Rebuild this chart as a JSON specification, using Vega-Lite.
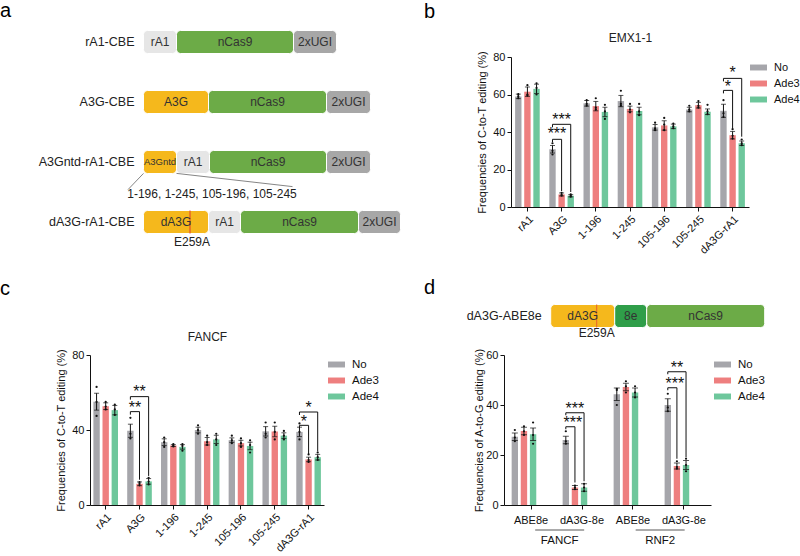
{
  "$schema": "https://vega.github.io/schema/vega-lite/v6.json",
  "padding": {"left": 0, "top": 1, "right": 0, "bottom": 0},
  "config": {
    "font": "Liberation Sans",
    "view": {"stroke": null},
    "axis": {"grid": false, "domainColor": "#111", "tickColor": "#111", "labelColor": "#111", "titleColor": "#111", "labelFontSize": 11, "titleFontSize": 11, "titleFontWeight": "normal", "tickSize": 4, "labelOverlap": false},
    "title": {"fontWeight": "normal", "color": "#000", "fontSize": 20}
  },
  "datasets": {
    "sa": [
      {"row": 1, "part": "rA1", "start": 0, "end": 33},
      {"row": 1, "part": "nCas9", "start": 33, "end": 150},
      {"row": 1, "part": "2xUGI", "start": 150, "end": 193},
      {"row": 2, "part": "A3G", "start": 0, "end": 65},
      {"row": 2, "part": "nCas9", "start": 65, "end": 183},
      {"row": 2, "part": "2xUGI", "start": 183, "end": 227},
      {"row": 3, "part": "A3Gntd", "start": 0, "end": 33},
      {"row": 3, "part": "rA1", "start": 33, "end": 66},
      {"row": 3, "part": "nCas9", "start": 66, "end": 183},
      {"row": 3, "part": "2xUGI", "start": 183, "end": 227},
      {"row": 4, "part": "dA3G", "start": 0, "end": 65},
      {"row": 4, "part": "rA1", "start": 65, "end": 97},
      {"row": 4, "part": "nCas9", "start": 97, "end": 215},
      {"row": 4, "part": "2xUGI", "start": 215, "end": 257}
    ],
    "sa_names": [
      {"row": 1, "name": "rA1-CBE"},
      {"row": 2, "name": "A3G-CBE"},
      {"row": 3, "name": "A3Gntd-rA1-CBE"},
      {"row": 4, "name": "dA3G-rA1-CBE"}
    ],
    "sa_mut": [{"row": 4, "start": 46, "end": 47}],
    "sa_lines": [
      {"x": 0, "y": 3.19, "x2": -15.5, "y2": 3.46},
      {"x": 33, "y": 3.19, "x2": 149, "y2": 3.41}
    ],
    "sa_notes": [
      {"x": 68.5, "y": 3.54, "t": "1-196, 1-245, 105-196, 105-245"},
      {"x": 48.5, "y": 4.33, "t": "E259A"}
    ],
    "sd": [
      {"row": 1, "part": "dA3G", "start": 0, "end": 64},
      {"row": 1, "part": "8e", "start": 64, "end": 96},
      {"row": 1, "part": "nCas9", "start": 96, "end": 214}
    ],
    "sd_names": [{"row": 1, "name": "dA3G-ABE8e"}],
    "sd_mut": [{"row": 1, "start": 45.5, "end": 46.5}],
    "sd_notes": [{"x": 46, "y": 1.58, "t": "E259A"}],
    "b_bars": [
      {"cat": "rA1", "trt": "No", "mean": 59, "lo": 57.8, "hi": 60.2},
      {"cat": "rA1", "trt": "Ade3", "mean": 61.5, "lo": 59, "hi": 64},
      {"cat": "rA1", "trt": "Ade4", "mean": 63, "lo": 60.5, "hi": 65.5},
      {"cat": "A3G", "trt": "No", "mean": 30.8, "lo": 28.8, "hi": 32.8},
      {"cat": "A3G", "trt": "Ade3", "mean": 6.7, "lo": 5.9, "hi": 7.5},
      {"cat": "A3G", "trt": "Ade4", "mean": 6, "lo": 5.4, "hi": 6.6},
      {"cat": "1-196", "trt": "No", "mean": 55.3, "lo": 53.8, "hi": 56.8},
      {"cat": "1-196", "trt": "Ade3", "mean": 53.8, "lo": 51.3, "hi": 56.3},
      {"cat": "1-196", "trt": "Ade4", "mean": 50.7, "lo": 48.2, "hi": 53.2},
      {"cat": "1-245", "trt": "No", "mean": 56.5, "lo": 53.5, "hi": 59.5},
      {"cat": "1-245", "trt": "Ade3", "mean": 52.3, "lo": 50.8, "hi": 53.8},
      {"cat": "1-245", "trt": "Ade4", "mean": 51.2, "lo": 49.2, "hi": 53.2},
      {"cat": "105-196", "trt": "No", "mean": 42.5, "lo": 41, "hi": 44},
      {"cat": "105-196", "trt": "Ade3", "mean": 43.5, "lo": 41, "hi": 46},
      {"cat": "105-196", "trt": "Ade4", "mean": 43, "lo": 41.8, "hi": 44.2},
      {"cat": "105-245", "trt": "No", "mean": 52, "lo": 50.8, "hi": 53.2},
      {"cat": "105-245", "trt": "Ade3", "mean": 54.3, "lo": 52.8, "hi": 55.8},
      {"cat": "105-245", "trt": "Ade4", "mean": 50.8, "lo": 49.3, "hi": 52.3},
      {"cat": "dA3G-rA1", "trt": "No", "mean": 51.3, "lo": 47.8, "hi": 54.8},
      {"cat": "dA3G-rA1", "trt": "Ade3", "mean": 38.3, "lo": 36.3, "hi": 40.3},
      {"cat": "dA3G-rA1", "trt": "Ade4", "mean": 34, "lo": 32.8, "hi": 35.2}
    ],
    "b_dots": [
      {"cat": "rA1", "trt": "No", "v": 58}, {"cat": "rA1", "trt": "No", "v": 59}, {"cat": "rA1", "trt": "No", "v": 60.2},
      {"cat": "rA1", "trt": "Ade3", "v": 59.5}, {"cat": "rA1", "trt": "Ade3", "v": 60}, {"cat": "rA1", "trt": "Ade3", "v": 65},
      {"cat": "rA1", "trt": "Ade4", "v": 60}, {"cat": "rA1", "trt": "Ade4", "v": 63.5}, {"cat": "rA1", "trt": "Ade4", "v": 66},
      {"cat": "A3G", "trt": "No", "v": 28}, {"cat": "A3G", "trt": "No", "v": 30}, {"cat": "A3G", "trt": "No", "v": 34},
      {"cat": "A3G", "trt": "Ade3", "v": 6}, {"cat": "A3G", "trt": "Ade3", "v": 6.5}, {"cat": "A3G", "trt": "Ade3", "v": 7.6},
      {"cat": "A3G", "trt": "Ade4", "v": 5.5}, {"cat": "A3G", "trt": "Ade4", "v": 6}, {"cat": "A3G", "trt": "Ade4", "v": 6.8},
      {"cat": "1-196", "trt": "No", "v": 54}, {"cat": "1-196", "trt": "No", "v": 55}, {"cat": "1-196", "trt": "No", "v": 57},
      {"cat": "1-196", "trt": "Ade3", "v": 52}, {"cat": "1-196", "trt": "Ade3", "v": 53}, {"cat": "1-196", "trt": "Ade3", "v": 58},
      {"cat": "1-196", "trt": "Ade4", "v": 47}, {"cat": "1-196", "trt": "Ade4", "v": 51}, {"cat": "1-196", "trt": "Ade4", "v": 54.5},
      {"cat": "1-245", "trt": "No", "v": 54}, {"cat": "1-245", "trt": "No", "v": 55}, {"cat": "1-245", "trt": "No", "v": 62},
      {"cat": "1-245", "trt": "Ade3", "v": 50.5}, {"cat": "1-245", "trt": "Ade3", "v": 52}, {"cat": "1-245", "trt": "Ade3", "v": 55},
      {"cat": "1-245", "trt": "Ade4", "v": 49}, {"cat": "1-245", "trt": "Ade4", "v": 51}, {"cat": "1-245", "trt": "Ade4", "v": 55},
      {"cat": "105-196", "trt": "No", "v": 41}, {"cat": "105-196", "trt": "No", "v": 42}, {"cat": "105-196", "trt": "No", "v": 45},
      {"cat": "105-196", "trt": "Ade3", "v": 41}, {"cat": "105-196", "trt": "Ade3", "v": 44}, {"cat": "105-196", "trt": "Ade3", "v": 47.5},
      {"cat": "105-196", "trt": "Ade4", "v": 42}, {"cat": "105-196", "trt": "Ade4", "v": 43}, {"cat": "105-196", "trt": "Ade4", "v": 44.5},
      {"cat": "105-245", "trt": "No", "v": 51}, {"cat": "105-245", "trt": "No", "v": 52}, {"cat": "105-245", "trt": "No", "v": 54},
      {"cat": "105-245", "trt": "Ade3", "v": 53}, {"cat": "105-245", "trt": "Ade3", "v": 54}, {"cat": "105-245", "trt": "Ade3", "v": 56.5},
      {"cat": "105-245", "trt": "Ade4", "v": 49.5}, {"cat": "105-245", "trt": "Ade4", "v": 51}, {"cat": "105-245", "trt": "Ade4", "v": 54.5},
      {"cat": "dA3G-rA1", "trt": "No", "v": 48}, {"cat": "dA3G-rA1", "trt": "No", "v": 50}, {"cat": "dA3G-rA1", "trt": "No", "v": 57},
      {"cat": "dA3G-rA1", "trt": "Ade3", "v": 36.5}, {"cat": "dA3G-rA1", "trt": "Ade3", "v": 38}, {"cat": "dA3G-rA1", "trt": "Ade3", "v": 41.5},
      {"cat": "dA3G-rA1", "trt": "Ade4", "v": 33}, {"cat": "dA3G-rA1", "trt": "Ade4", "v": 34}, {"cat": "dA3G-rA1", "trt": "Ade4", "v": 36}
    ],
    "b_br": [
      {"id": 1, "o": 1, "cat": "A3G", "trt": "No", "y": 34.5}, {"id": 1, "o": 2, "cat": "A3G", "trt": "No", "y": 36.1},
      {"id": 1, "o": 3, "cat": "A3G", "trt": "Ade3", "y": 36.1}, {"id": 1, "o": 4, "cat": "A3G", "trt": "Ade3", "y": 8.5},
      {"id": 2, "o": 1, "cat": "A3G", "trt": "No", "y": 42.5}, {"id": 2, "o": 2, "cat": "A3G", "trt": "No", "y": 44.1},
      {"id": 2, "o": 3, "cat": "A3G", "trt": "Ade4", "y": 44.1}, {"id": 2, "o": 4, "cat": "A3G", "trt": "Ade4", "y": 8},
      {"id": 3, "o": 1, "cat": "dA3G-rA1", "trt": "No", "y": 60.6}, {"id": 3, "o": 2, "cat": "dA3G-rA1", "trt": "No", "y": 62.2},
      {"id": 3, "o": 3, "cat": "dA3G-rA1", "trt": "Ade3", "y": 62.2}, {"id": 3, "o": 4, "cat": "dA3G-rA1", "trt": "Ade3", "y": 42},
      {"id": 4, "o": 1, "cat": "dA3G-rA1", "trt": "No", "y": 67}, {"id": 4, "o": 2, "cat": "dA3G-rA1", "trt": "No", "y": 68.6},
      {"id": 4, "o": 3, "cat": "dA3G-rA1", "trt": "Ade4", "y": 68.6}, {"id": 4, "o": 4, "cat": "dA3G-rA1", "trt": "Ade4", "y": 37.5}
    ],
    "b_st": [
      {"cat": "A3G", "trt": "No", "lvl": "lo", "y": 40.9, "s": "***"},
      {"cat": "A3G", "trt": "Ade3", "lvl": "hi", "y": 48.5, "s": "***"},
      {"cat": "dA3G-rA1", "trt": "No", "lvl": "lo", "y": 66.3, "s": "*"},
      {"cat": "dA3G-rA1", "trt": "Ade3", "lvl": "hi", "y": 73.4, "s": "*"}
    ],
    "c_bars": [
      {"cat": "rA1", "trt": "No", "mean": 55.1, "lo": 50.6, "hi": 59.6},
      {"cat": "rA1", "trt": "Ade3", "mean": 52.7, "lo": 50.9, "hi": 54.5},
      {"cat": "rA1", "trt": "Ade4", "mean": 50.6, "lo": 48.1, "hi": 53.1},
      {"cat": "A3G", "trt": "No", "mean": 39.6, "lo": 36.1, "hi": 43.1},
      {"cat": "A3G", "trt": "Ade3", "mean": 11.3, "lo": 10.3, "hi": 12.3},
      {"cat": "A3G", "trt": "Ade4", "mean": 12.6, "lo": 11.1, "hi": 14.1},
      {"cat": "1-196", "trt": "No", "mean": 33.5, "lo": 31.7, "hi": 35.3},
      {"cat": "1-196", "trt": "Ade3", "mean": 31.7, "lo": 31.2, "hi": 32.2},
      {"cat": "1-196", "trt": "Ade4", "mean": 31, "lo": 29.8, "hi": 32.2},
      {"cat": "1-245", "trt": "No", "mean": 40, "lo": 38.5, "hi": 41.5},
      {"cat": "1-245", "trt": "Ade3", "mean": 34, "lo": 32, "hi": 36},
      {"cat": "1-245", "trt": "Ade4", "mean": 35, "lo": 32.8, "hi": 37.2},
      {"cat": "105-196", "trt": "No", "mean": 34.6, "lo": 33.4, "hi": 35.8},
      {"cat": "105-196", "trt": "Ade3", "mean": 33, "lo": 31.5, "hi": 34.5},
      {"cat": "105-196", "trt": "Ade4", "mean": 31.5, "lo": 29.5, "hi": 33.5},
      {"cat": "105-245", "trt": "No", "mean": 39.3, "lo": 36.8, "hi": 41.8},
      {"cat": "105-245", "trt": "Ade3", "mean": 39.2, "lo": 36.4, "hi": 42},
      {"cat": "105-245", "trt": "Ade4", "mean": 37, "lo": 35.5, "hi": 38.5},
      {"cat": "dA3G-rA1", "trt": "No", "mean": 39, "lo": 36.5, "hi": 41.5},
      {"cat": "dA3G-rA1", "trt": "Ade3", "mean": 24.3, "lo": 23.1, "hi": 25.5},
      {"cat": "dA3G-rA1", "trt": "Ade4", "mean": 25.5, "lo": 24, "hi": 27}
    ],
    "c_dots": [
      {"cat": "rA1", "trt": "No", "v": 47.5}, {"cat": "rA1", "trt": "No", "v": 55}, {"cat": "rA1", "trt": "No", "v": 63},
      {"cat": "rA1", "trt": "Ade3", "v": 51}, {"cat": "rA1", "trt": "Ade3", "v": 52.5}, {"cat": "rA1", "trt": "Ade3", "v": 55},
      {"cat": "rA1", "trt": "Ade4", "v": 48}, {"cat": "rA1", "trt": "Ade4", "v": 51}, {"cat": "rA1", "trt": "Ade4", "v": 53.5},
      {"cat": "A3G", "trt": "No", "v": 35.5}, {"cat": "A3G", "trt": "No", "v": 38}, {"cat": "A3G", "trt": "No", "v": 46.5},
      {"cat": "A3G", "trt": "Ade3", "v": 10.5}, {"cat": "A3G", "trt": "Ade3", "v": 11.3}, {"cat": "A3G", "trt": "Ade3", "v": 12.2},
      {"cat": "A3G", "trt": "Ade4", "v": 11}, {"cat": "A3G", "trt": "Ade4", "v": 12.5}, {"cat": "A3G", "trt": "Ade4", "v": 14.5},
      {"cat": "1-196", "trt": "No", "v": 31}, {"cat": "1-196", "trt": "No", "v": 33.5}, {"cat": "1-196", "trt": "No", "v": 36},
      {"cat": "1-196", "trt": "Ade3", "v": 31.2}, {"cat": "1-196", "trt": "Ade3", "v": 31.8}, {"cat": "1-196", "trt": "Ade3", "v": 32.5},
      {"cat": "1-196", "trt": "Ade4", "v": 29}, {"cat": "1-196", "trt": "Ade4", "v": 31.5}, {"cat": "1-196", "trt": "Ade4", "v": 32.5},
      {"cat": "1-245", "trt": "No", "v": 38}, {"cat": "1-245", "trt": "No", "v": 40}, {"cat": "1-245", "trt": "No", "v": 42.5},
      {"cat": "1-245", "trt": "Ade3", "v": 32}, {"cat": "1-245", "trt": "Ade3", "v": 33.5}, {"cat": "1-245", "trt": "Ade3", "v": 37},
      {"cat": "1-245", "trt": "Ade4", "v": 32}, {"cat": "1-245", "trt": "Ade4", "v": 35}, {"cat": "1-245", "trt": "Ade4", "v": 38},
      {"cat": "105-196", "trt": "No", "v": 33}, {"cat": "105-196", "trt": "No", "v": 34.5}, {"cat": "105-196", "trt": "No", "v": 37},
      {"cat": "105-196", "trt": "Ade3", "v": 31}, {"cat": "105-196", "trt": "Ade3", "v": 33}, {"cat": "105-196", "trt": "Ade3", "v": 35.5},
      {"cat": "105-196", "trt": "Ade4", "v": 28}, {"cat": "105-196", "trt": "Ade4", "v": 32}, {"cat": "105-196", "trt": "Ade4", "v": 34.5},
      {"cat": "105-245", "trt": "No", "v": 36}, {"cat": "105-245", "trt": "No", "v": 38}, {"cat": "105-245", "trt": "No", "v": 44},
      {"cat": "105-245", "trt": "Ade3", "v": 35}, {"cat": "105-245", "trt": "Ade3", "v": 39}, {"cat": "105-245", "trt": "Ade3", "v": 44},
      {"cat": "105-245", "trt": "Ade4", "v": 35}, {"cat": "105-245", "trt": "Ade4", "v": 37}, {"cat": "105-245", "trt": "Ade4", "v": 39.5},
      {"cat": "dA3G-rA1", "trt": "No", "v": 35}, {"cat": "dA3G-rA1", "trt": "No", "v": 39}, {"cat": "dA3G-rA1", "trt": "No", "v": 43.5},
      {"cat": "dA3G-rA1", "trt": "Ade3", "v": 23}, {"cat": "dA3G-rA1", "trt": "Ade3", "v": 24}, {"cat": "dA3G-rA1", "trt": "Ade3", "v": 27},
      {"cat": "dA3G-rA1", "trt": "Ade4", "v": 24}, {"cat": "dA3G-rA1", "trt": "Ade4", "v": 25.5}, {"cat": "dA3G-rA1", "trt": "Ade4", "v": 28}
    ],
    "c_br": [
      {"id": 1, "o": 1, "cat": "A3G", "trt": "No", "y": 48.2}, {"id": 1, "o": 2, "cat": "A3G", "trt": "No", "y": 49.8},
      {"id": 1, "o": 3, "cat": "A3G", "trt": "Ade3", "y": 49.8}, {"id": 1, "o": 4, "cat": "A3G", "trt": "Ade3", "y": 13.5},
      {"id": 2, "o": 1, "cat": "A3G", "trt": "No", "y": 56.2}, {"id": 2, "o": 2, "cat": "A3G", "trt": "No", "y": 57.8},
      {"id": 2, "o": 3, "cat": "A3G", "trt": "Ade4", "y": 57.8}, {"id": 2, "o": 4, "cat": "A3G", "trt": "Ade4", "y": 15.5},
      {"id": 3, "o": 1, "cat": "dA3G-rA1", "trt": "No", "y": 40.9}, {"id": 3, "o": 2, "cat": "dA3G-rA1", "trt": "No", "y": 42.5},
      {"id": 3, "o": 3, "cat": "dA3G-rA1", "trt": "Ade3", "y": 42.5}, {"id": 3, "o": 4, "cat": "dA3G-rA1", "trt": "Ade3", "y": 27},
      {"id": 4, "o": 1, "cat": "dA3G-rA1", "trt": "No", "y": 48}, {"id": 4, "o": 2, "cat": "dA3G-rA1", "trt": "No", "y": 49.6},
      {"id": 4, "o": 3, "cat": "dA3G-rA1", "trt": "Ade4", "y": 49.6}, {"id": 4, "o": 4, "cat": "dA3G-rA1", "trt": "Ade4", "y": 28.5}
    ],
    "c_st": [
      {"cat": "A3G", "trt": "No", "lvl": "lo", "y": 54, "s": "**"},
      {"cat": "A3G", "trt": "Ade3", "lvl": "hi", "y": 62.2, "s": "**"},
      {"cat": "dA3G-rA1", "trt": "No", "lvl": "lo", "y": 46.6, "s": "*"},
      {"cat": "dA3G-rA1", "trt": "Ade3", "lvl": "hi", "y": 53.8, "s": "*"}
    ],
    "d_bars": [
      {"cat": "FANCF ABE8e", "trt": "No", "mean": 27.3, "lo": 25.8, "hi": 28.8},
      {"cat": "FANCF ABE8e", "trt": "Ade3", "mean": 29.6, "lo": 28.1, "hi": 31.1},
      {"cat": "FANCF ABE8e", "trt": "Ade4", "mean": 28.3, "lo": 25.8, "hi": 30.8},
      {"cat": "FANCF dA3G-8e", "trt": "No", "mean": 26, "lo": 24.5, "hi": 27.5},
      {"cat": "FANCF dA3G-8e", "trt": "Ade3", "mean": 7, "lo": 6.2, "hi": 7.8},
      {"cat": "FANCF dA3G-8e", "trt": "Ade4", "mean": 7, "lo": 5.5, "hi": 8.5},
      {"cat": "RNF2 ABE8e", "trt": "No", "mean": 44.3, "lo": 41.8, "hi": 46.8},
      {"cat": "RNF2 ABE8e", "trt": "Ade3", "mean": 47.2, "lo": 45.7, "hi": 48.7},
      {"cat": "RNF2 ABE8e", "trt": "Ade4", "mean": 45, "lo": 43.2, "hi": 46.8},
      {"cat": "RNF2 dA3G-8e", "trt": "No", "mean": 40, "lo": 37.5, "hi": 42.5},
      {"cat": "RNF2 dA3G-8e", "trt": "Ade3", "mean": 15.6, "lo": 14.4, "hi": 16.8},
      {"cat": "RNF2 dA3G-8e", "trt": "Ade4", "mean": 16, "lo": 14.2, "hi": 17.8}
    ],
    "d_dots": [
      {"cat": "FANCF ABE8e", "trt": "No", "v": 25.5}, {"cat": "FANCF ABE8e", "trt": "No", "v": 27}, {"cat": "FANCF ABE8e", "trt": "No", "v": 30},
      {"cat": "FANCF ABE8e", "trt": "Ade3", "v": 28}, {"cat": "FANCF ABE8e", "trt": "Ade3", "v": 29.5}, {"cat": "FANCF ABE8e", "trt": "Ade3", "v": 31.5},
      {"cat": "FANCF ABE8e", "trt": "Ade4", "v": 24.5}, {"cat": "FANCF ABE8e", "trt": "Ade4", "v": 28}, {"cat": "FANCF ABE8e", "trt": "Ade4", "v": 33},
      {"cat": "FANCF dA3G-8e", "trt": "No", "v": 24.5}, {"cat": "FANCF dA3G-8e", "trt": "No", "v": 25.5}, {"cat": "FANCF dA3G-8e", "trt": "No", "v": 29.5},
      {"cat": "FANCF dA3G-8e", "trt": "Ade3", "v": 6.3}, {"cat": "FANCF dA3G-8e", "trt": "Ade3", "v": 7}, {"cat": "FANCF dA3G-8e", "trt": "Ade3", "v": 7.8},
      {"cat": "FANCF dA3G-8e", "trt": "Ade4", "v": 5.5}, {"cat": "FANCF dA3G-8e", "trt": "Ade4", "v": 7}, {"cat": "FANCF dA3G-8e", "trt": "Ade4", "v": 8.5},
      {"cat": "RNF2 ABE8e", "trt": "No", "v": 40}, {"cat": "RNF2 ABE8e", "trt": "No", "v": 46}, {"cat": "RNF2 ABE8e", "trt": "No", "v": 46.5},
      {"cat": "RNF2 ABE8e", "trt": "Ade3", "v": 45}, {"cat": "RNF2 ABE8e", "trt": "Ade3", "v": 47.5}, {"cat": "RNF2 ABE8e", "trt": "Ade3", "v": 49.5},
      {"cat": "RNF2 ABE8e", "trt": "Ade4", "v": 43}, {"cat": "RNF2 ABE8e", "trt": "Ade4", "v": 45}, {"cat": "RNF2 ABE8e", "trt": "Ade4", "v": 47.5},
      {"cat": "RNF2 dA3G-8e", "trt": "No", "v": 37.5}, {"cat": "RNF2 dA3G-8e", "trt": "No", "v": 39}, {"cat": "RNF2 dA3G-8e", "trt": "No", "v": 44.5},
      {"cat": "RNF2 dA3G-8e", "trt": "Ade3", "v": 14.5}, {"cat": "RNF2 dA3G-8e", "trt": "Ade3", "v": 15.2}, {"cat": "RNF2 dA3G-8e", "trt": "Ade3", "v": 17.5},
      {"cat": "RNF2 dA3G-8e", "trt": "Ade4", "v": 13.5}, {"cat": "RNF2 dA3G-8e", "trt": "Ade4", "v": 16}, {"cat": "RNF2 dA3G-8e", "trt": "Ade4", "v": 18.5}
    ],
    "d_br": [
      {"id": 1, "o": 1, "cat": "FANCF dA3G-8e", "trt": "No", "y": 30.3}, {"id": 1, "o": 2, "cat": "FANCF dA3G-8e", "trt": "No", "y": 31.3},
      {"id": 1, "o": 3, "cat": "FANCF dA3G-8e", "trt": "Ade3", "y": 31.3}, {"id": 1, "o": 4, "cat": "FANCF dA3G-8e", "trt": "Ade3", "y": 9},
      {"id": 2, "o": 1, "cat": "FANCF dA3G-8e", "trt": "No", "y": 35.9}, {"id": 2, "o": 2, "cat": "FANCF dA3G-8e", "trt": "No", "y": 36.9},
      {"id": 2, "o": 3, "cat": "FANCF dA3G-8e", "trt": "Ade4", "y": 36.9}, {"id": 2, "o": 4, "cat": "FANCF dA3G-8e", "trt": "Ade4", "y": 9.5},
      {"id": 3, "o": 1, "cat": "RNF2 dA3G-8e", "trt": "No", "y": 45.9}, {"id": 3, "o": 2, "cat": "RNF2 dA3G-8e", "trt": "No", "y": 46.9},
      {"id": 3, "o": 3, "cat": "RNF2 dA3G-8e", "trt": "Ade3", "y": 46.9}, {"id": 3, "o": 4, "cat": "RNF2 dA3G-8e", "trt": "Ade3", "y": 18.5},
      {"id": 4, "o": 1, "cat": "RNF2 dA3G-8e", "trt": "No", "y": 52.3}, {"id": 4, "o": 2, "cat": "RNF2 dA3G-8e", "trt": "No", "y": 53.3},
      {"id": 4, "o": 3, "cat": "RNF2 dA3G-8e", "trt": "Ade4", "y": 53.3}, {"id": 4, "o": 4, "cat": "RNF2 dA3G-8e", "trt": "Ade4", "y": 19}
    ],
    "d_st": [
      {"cat": "FANCF dA3G-8e", "trt": "No", "lvl": "lo", "y": 34.3, "s": "***"},
      {"cat": "FANCF dA3G-8e", "trt": "Ade3", "lvl": "hi", "y": 40, "s": "***"},
      {"cat": "RNF2 dA3G-8e", "trt": "No", "lvl": "lo", "y": 50, "s": "***"},
      {"cat": "RNF2 dA3G-8e", "trt": "Ade3", "lvl": "hi", "y": 56.3, "s": "**"}
    ],
    "d_genes": [{"gene": "FANCF"}, {"gene": "RNF2"}]
  },
  "resolve": {"scale": {"color": "independent"}, "legend": {"color": "independent"}},
  "spacing": 22,
  "vconcat": [
    {
      "spacing": 23,
      "resolve": {"scale": {"color": "independent"}, "legend": {"color": "independent"}},
      "hconcat": [
        {
          "width": 310,
          "height": 195,
          "title": {"text": "a", "anchor": "start", "frame": "group", "dx": -90, "offset": 9},
          "layer": [
            {
              "data": {"name": "sa"},
              "mark": {"type": "bar", "orient": "horizontal", "size": 23, "cornerRadius": 4, "stroke": "#ffffff", "strokeWidth": 1},
              "encoding": {
                "x": {"field": "start", "type": "quantitative", "scale": {"domain": [-53.5, 256.5], "nice": false, "zero": false, "padding": 0}, "axis": null},
                "x2": {"field": "end"},
                "y": {"field": "row", "type": "quantitative", "scale": {"domain": [1.25, 4.5], "reverse": true, "nice": false, "zero": false, "padding": 0}, "axis": null},
                "fill": {"field": "part", "type": "nominal", "legend": null, "scale": {"domain": ["rA1", "nCas9", "2xUGI", "A3G", "A3Gntd", "dA3G", "8e"], "range": ["#e6e6e6", "#6cab47", "#a7a7a7", "#f5b81c", "#f5b81c", "#f5b81c", "#2f9e49"]}}
              }
            },
            {
              "data": {"name": "sa_mut"},
              "mark": {"type": "bar", "orient": "horizontal", "size": 23, "color": "#e23a2b"},
              "encoding": {
                "x": {"field": "start", "type": "quantitative", "axis": null},
                "x2": {"field": "end"},
                "y": {"field": "row", "type": "quantitative", "axis": null}
              }
            },
            {
              "data": {"name": "sa"},
              "transform": [{"calculate": "(datum.start + datum.end) / 2", "as": "mid"}],
              "mark": {"type": "text", "color": "#333", "baseline": "middle"},
              "encoding": {
                "x": {"field": "mid", "type": "quantitative", "axis": null},
                "y": {"field": "row", "type": "quantitative", "axis": null},
                "text": {"field": "part"},
                "size": {"condition": {"test": "datum.part === 'A3Gntd'", "value": 9.5}, "value": 12}
              }
            },
            {
              "data": {"name": "sa_names"},
              "mark": {"type": "text", "align": "right", "baseline": "middle", "dx": -9, "fontSize": 12.5, "color": "#222"},
              "encoding": {
                "x": {"datum": 0, "type": "quantitative", "axis": null},
                "y": {"field": "row", "type": "quantitative", "axis": null},
                "text": {"field": "name"}
              }
            },
            {
              "data": {"name": "sa_lines"},
              "mark": {"type": "rule", "color": "#666", "strokeWidth": 0.8},
              "encoding": {
                "x": {"field": "x", "type": "quantitative", "axis": null},
                "x2": {"field": "x2"},
                "y": {"field": "y", "type": "quantitative", "axis": null},
                "y2": {"field": "y2"}
              }
            },
            {
              "data": {"name": "sa_notes"},
              "mark": {"type": "text", "fontSize": 12, "color": "#222", "baseline": "middle"},
              "encoding": {
                "x": {"field": "x", "type": "quantitative", "axis": null},
                "y": {"field": "y", "type": "quantitative", "axis": null},
                "text": {"field": "t"}
              }
            }
          ]
        },
        {
          "width": 238,
          "height": 150,
          "title": {"text": "b", "anchor": "start", "frame": "group", "dx": -87, "offset": 9},
          "resolve": {"scale": {"x": "independent", "y": "independent"}, "axis": {"x": "independent", "y": "independent"}},
          "layer": [
            {
              "data": {"name": "b_bars"},
              "mark": {"type": "bar"},
              "encoding": {
                "x": {"field": "cat", "type": "nominal", "title": null, "scale": {"domain": ["rA1", "A3G", "1-196", "1-245", "105-196", "105-245", "dA3G-rA1"], "paddingInner": 0.28, "paddingOuter": 0.12}, "axis": {"labelAngle": -45, "labelPadding": 2}},
                "xOffset": {"field": "trt", "type": "nominal", "scale": {"domain": ["No", "Ade3", "Ade4"], "paddingInner": 0.3}},
                "y": {"field": "mean", "type": "quantitative", "scale": {"domain": [0, 80]}, "axis": {"values": [0, 20, 40, 60, 80], "title": "Frequencies of C-to-T editing (%)", "titlePadding": 5, "labelPadding": 2, "labelOverlap": false}},
                "color": {"field": "trt", "type": "nominal", "scale": {"domain": ["No", "Ade3", "Ade4"], "range": ["#a6a6ab", "#ee7f7f", "#6ec79c"]}, "legend": {"title": null, "orient": "none", "legendX": 239, "legendY": 2, "direction": "vertical", "symbolType": "M-1,-0.35H1V0.35H-1Z", "symbolSize": 289, "symbolStrokeWidth": 0, "symbolOpacity": 1, "labelFontSize": 11, "labelOffset": 7, "rowPadding": 2, "labelColor": "#111"}}
              }
            },
            {
              "data": {"name": "b_bars"},
              "mark": {"type": "rule", "color": "#111", "strokeWidth": 1},
              "encoding": {
                "x": {"field": "cat", "type": "nominal", "scale": {"domain": ["rA1", "A3G", "1-196", "1-245", "105-196", "105-245", "dA3G-rA1"], "paddingInner": 0.28, "paddingOuter": 0.12}, "axis": null},
                "xOffset": {"field": "trt", "type": "nominal", "scale": {"domain": ["No", "Ade3", "Ade4"], "paddingInner": 0.3}},
                "y": {"field": "lo", "type": "quantitative", "scale": {"domain": [0, 80]}, "axis": null},
                "y2": {"field": "hi"}
              }
            },
            {
              "data": {"name": "b_bars"},
              "mark": {"type": "tick", "color": "#111", "thickness": 1, "size": 5},
              "encoding": {
                "x": {"field": "cat", "type": "nominal", "scale": {"domain": ["rA1", "A3G", "1-196", "1-245", "105-196", "105-245", "dA3G-rA1"], "paddingInner": 0.28, "paddingOuter": 0.12}, "axis": null},
                "xOffset": {"field": "trt", "type": "nominal", "scale": {"domain": ["No", "Ade3", "Ade4"], "paddingInner": 0.3}},
                "y": {"field": "hi", "type": "quantitative", "scale": {"domain": [0, 80]}, "axis": null}
              }
            },
            {
              "data": {"name": "b_bars"},
              "mark": {"type": "tick", "color": "#111", "thickness": 1, "size": 5},
              "encoding": {
                "x": {"field": "cat", "type": "nominal", "scale": {"domain": ["rA1", "A3G", "1-196", "1-245", "105-196", "105-245", "dA3G-rA1"], "paddingInner": 0.28, "paddingOuter": 0.12}, "axis": null},
                "xOffset": {"field": "trt", "type": "nominal", "scale": {"domain": ["No", "Ade3", "Ade4"], "paddingInner": 0.3}},
                "y": {"field": "lo", "type": "quantitative", "scale": {"domain": [0, 80]}, "axis": null}
              }
            },
            {
              "data": {"name": "b_dots"},
              "mark": {"type": "point", "filled": true, "color": "#111", "size": 5, "opacity": 1},
              "encoding": {
                "x": {"field": "cat", "type": "nominal", "scale": {"domain": ["rA1", "A3G", "1-196", "1-245", "105-196", "105-245", "dA3G-rA1"], "paddingInner": 0.28, "paddingOuter": 0.12}, "axis": null},
                "xOffset": {"field": "trt", "type": "nominal", "scale": {"domain": ["No", "Ade3", "Ade4"], "paddingInner": 0.3}},
                "y": {"field": "v", "type": "quantitative", "scale": {"domain": [0, 80]}, "axis": null}
              }
            },
            {
              "data": {"name": "b_br"},
              "mark": {"type": "line", "color": "#111", "strokeWidth": 1},
              "encoding": {
                "x": {"field": "cat", "type": "nominal", "scale": {"domain": ["rA1", "A3G", "1-196", "1-245", "105-196", "105-245", "dA3G-rA1"], "paddingInner": 0.28, "paddingOuter": 0.12}, "axis": null},
                "xOffset": {"field": "trt", "type": "nominal", "scale": {"domain": ["No", "Ade3", "Ade4"], "paddingInner": 0.3}},
                "y": {"field": "y", "type": "quantitative", "scale": {"domain": [0, 80]}, "axis": null},
                "detail": {"field": "id"},
                "order": {"field": "o"}
              }
            },
            {
              "data": {"name": "b_st"},
              "transform": [{"filter": "datum.lvl === 'lo'"}],
              "mark": {"type": "text", "fontSize": 16, "color": "#111", "dx": 4.5, "dy": 9, "baseline": "alphabetic"},
              "encoding": {
                "x": {"field": "cat", "type": "nominal", "scale": {"domain": ["rA1", "A3G", "1-196", "1-245", "105-196", "105-245", "dA3G-rA1"], "paddingInner": 0.28, "paddingOuter": 0.12}, "axis": null},
                "xOffset": {"field": "trt", "type": "nominal", "scale": {"domain": ["No", "Ade3", "Ade4"], "paddingInner": 0.3}},
                "y": {"field": "y", "type": "quantitative", "scale": {"domain": [0, 80]}, "axis": null},
                "text": {"field": "s"}
              }
            },
            {
              "data": {"name": "b_st"},
              "transform": [{"filter": "datum.lvl === 'hi'"}],
              "mark": {"type": "text", "fontSize": 16, "color": "#111", "dy": 9, "baseline": "alphabetic"},
              "encoding": {
                "x": {"field": "cat", "type": "nominal", "scale": {"domain": ["rA1", "A3G", "1-196", "1-245", "105-196", "105-245", "dA3G-rA1"], "paddingInner": 0.28, "paddingOuter": 0.12}, "axis": null},
                "xOffset": {"field": "trt", "type": "nominal", "scale": {"domain": ["No", "Ade3", "Ade4"], "paddingInner": 0.3}},
                "y": {"field": "y", "type": "quantitative", "scale": {"domain": [0, 80]}, "axis": null},
                "text": {"field": "s"}
              }
            },
            {
              "data": {"values": [{"gene": "EMX1-1"}]},
              "mark": {"type": "text", "text": " ", "opacity": 0},
              "encoding": {
                "x": {"field": "gene", "type": "nominal", "axis": {"orient": "top", "title": null, "domain": false, "ticks": false, "labelPadding": 13, "labelFontSize": 12, "labelAngle": 0, "labelColor": "#222"}}
              }
            }
          ]
        }
      ]
    },
    {
      "spacing": 45,
      "resolve": {"scale": {"color": "independent"}, "legend": {"color": "independent"}},
      "hconcat": [
        {
          "width": 234,
          "height": 150,
          "title": {"text": "c", "anchor": "start", "frame": "group", "dx": -90, "offset": 31},
          "resolve": {"scale": {"x": "independent"}, "axis": {"x": "independent"}},
          "layer": [
            {
              "data": {"name": "c_bars"},
              "mark": {"type": "bar"},
              "encoding": {
                "x": {"field": "cat", "type": "nominal", "title": null, "scale": {"domain": ["rA1", "A3G", "1-196", "1-245", "105-196", "105-245", "dA3G-rA1"], "paddingInner": 0.28, "paddingOuter": 0.1}, "axis": {"labelAngle": -45, "labelPadding": 2}},
                "xOffset": {"field": "trt", "type": "nominal", "scale": {"domain": ["No", "Ade3", "Ade4"], "paddingInner": 0.3}},
                "y": {"field": "mean", "type": "quantitative", "scale": {"domain": [0, 80]}, "axis": {"values": [0, 20, 40, 60, 80], "title": "Frequencies of C-to-T editing (%)", "titlePadding": 5, "labelPadding": 2, "labelOverlap": false}},
                "color": {"field": "trt", "type": "nominal", "scale": {"domain": ["No", "Ade3", "Ade4"], "range": ["#a6a6ab", "#ee7f7f", "#6ec79c"]}, "legend": {"title": null, "orient": "none", "legendX": 238, "legendY": 1, "direction": "vertical", "symbolType": "M-1,-0.35H1V0.35H-1Z", "symbolSize": 289, "symbolStrokeWidth": 0, "symbolOpacity": 1, "labelFontSize": 11.5, "labelOffset": 7, "rowPadding": 2, "labelColor": "#111"}}
              }
            },
            {
              "data": {"name": "c_bars"},
              "mark": {"type": "rule", "color": "#111", "strokeWidth": 1},
              "encoding": {
                "x": {"field": "cat", "type": "nominal", "scale": {"domain": ["rA1", "A3G", "1-196", "1-245", "105-196", "105-245", "dA3G-rA1"], "paddingInner": 0.28, "paddingOuter": 0.1}, "axis": null},
                "xOffset": {"field": "trt", "type": "nominal", "scale": {"domain": ["No", "Ade3", "Ade4"], "paddingInner": 0.3}},
                "y": {"field": "lo", "type": "quantitative", "title": "Frequencies of C-to-T editing (%)"},
                "y2": {"field": "hi"}
              }
            },
            {
              "data": {"name": "c_bars"},
              "mark": {"type": "tick", "color": "#111", "thickness": 1, "size": 5},
              "encoding": {
                "x": {"field": "cat", "type": "nominal", "scale": {"domain": ["rA1", "A3G", "1-196", "1-245", "105-196", "105-245", "dA3G-rA1"], "paddingInner": 0.28, "paddingOuter": 0.1}, "axis": null},
                "xOffset": {"field": "trt", "type": "nominal", "scale": {"domain": ["No", "Ade3", "Ade4"], "paddingInner": 0.3}},
                "y": {"field": "hi", "type": "quantitative", "title": "Frequencies of C-to-T editing (%)"}
              }
            },
            {
              "data": {"name": "c_bars"},
              "mark": {"type": "tick", "color": "#111", "thickness": 1, "size": 5},
              "encoding": {
                "x": {"field": "cat", "type": "nominal", "scale": {"domain": ["rA1", "A3G", "1-196", "1-245", "105-196", "105-245", "dA3G-rA1"], "paddingInner": 0.28, "paddingOuter": 0.1}, "axis": null},
                "xOffset": {"field": "trt", "type": "nominal", "scale": {"domain": ["No", "Ade3", "Ade4"], "paddingInner": 0.3}},
                "y": {"field": "lo", "type": "quantitative", "title": "Frequencies of C-to-T editing (%)"}
              }
            },
            {
              "data": {"name": "c_dots"},
              "mark": {"type": "point", "filled": true, "color": "#111", "size": 5, "opacity": 1},
              "encoding": {
                "x": {"field": "cat", "type": "nominal", "scale": {"domain": ["rA1", "A3G", "1-196", "1-245", "105-196", "105-245", "dA3G-rA1"], "paddingInner": 0.28, "paddingOuter": 0.1}, "axis": null},
                "xOffset": {"field": "trt", "type": "nominal", "scale": {"domain": ["No", "Ade3", "Ade4"], "paddingInner": 0.3}},
                "y": {"field": "v", "type": "quantitative", "title": "Frequencies of C-to-T editing (%)"}
              }
            },
            {
              "data": {"name": "c_br"},
              "mark": {"type": "line", "color": "#111", "strokeWidth": 1},
              "encoding": {
                "x": {"field": "cat", "type": "nominal", "scale": {"domain": ["rA1", "A3G", "1-196", "1-245", "105-196", "105-245", "dA3G-rA1"], "paddingInner": 0.28, "paddingOuter": 0.1}, "axis": null},
                "xOffset": {"field": "trt", "type": "nominal", "scale": {"domain": ["No", "Ade3", "Ade4"], "paddingInner": 0.3}},
                "y": {"field": "y", "type": "quantitative", "title": "Frequencies of C-to-T editing (%)"},
                "detail": {"field": "id"},
                "order": {"field": "o"}
              }
            },
            {
              "data": {"name": "c_st"},
              "transform": [{"filter": "datum.lvl === 'lo'"}],
              "mark": {"type": "text", "fontSize": 16, "color": "#111", "dx": 4.5, "dy": 9, "baseline": "alphabetic"},
              "encoding": {
                "x": {"field": "cat", "type": "nominal", "scale": {"domain": ["rA1", "A3G", "1-196", "1-245", "105-196", "105-245", "dA3G-rA1"], "paddingInner": 0.28, "paddingOuter": 0.1}, "axis": null},
                "xOffset": {"field": "trt", "type": "nominal", "scale": {"domain": ["No", "Ade3", "Ade4"], "paddingInner": 0.3}},
                "y": {"field": "y", "type": "quantitative", "title": "Frequencies of C-to-T editing (%)"},
                "text": {"field": "s"}
              }
            },
            {
              "data": {"name": "c_st"},
              "transform": [{"filter": "datum.lvl === 'hi'"}],
              "mark": {"type": "text", "fontSize": 16, "color": "#111", "dy": 9, "baseline": "alphabetic"},
              "encoding": {
                "x": {"field": "cat", "type": "nominal", "scale": {"domain": ["rA1", "A3G", "1-196", "1-245", "105-196", "105-245", "dA3G-rA1"], "paddingInner": 0.28, "paddingOuter": 0.1}, "axis": null},
                "xOffset": {"field": "trt", "type": "nominal", "scale": {"domain": ["No", "Ade3", "Ade4"], "paddingInner": 0.3}},
                "y": {"field": "y", "type": "quantitative", "title": "Frequencies of C-to-T editing (%)"},
                "text": {"field": "s"}
              }
            },
            {
              "data": {"values": [{"gene": "FANCF"}]},
              "mark": {"type": "text", "text": " ", "opacity": 0},
              "encoding": {
                "x": {"field": "gene", "type": "nominal", "axis": {"orient": "top", "title": null, "domain": false, "ticks": false, "labelPadding": 12, "labelFontSize": 12, "labelAngle": 0, "labelColor": "#222"}}
              }
            }
          ]
        },
        {
          "width": 207,
          "height": 150,
          "title": {"text": "d", "anchor": "start", "frame": "group", "dx": -80, "offset": 6},
          "resolve": {"scale": {"x": "independent", "y": "independent"}, "axis": {"x": "independent", "y": "independent"}},
          "layer": [
            {
              "data": {"name": "d_bars"},
              "mark": {"type": "bar"},
              "encoding": {
                "x": {"field": "cat", "type": "nominal", "title": null, "scale": {"domain": ["FANCF ABE8e", "FANCF dA3G-8e", "RNF2 ABE8e", "RNF2 dA3G-8e"], "paddingInner": 0.24, "paddingOuter": 0.15}, "axis": {"labelAngle": 0, "labelPadding": 5, "labelExpr": "split(datum.label, ' ')[1]"}},
                "xOffset": {"field": "trt", "type": "nominal", "scale": {"domain": ["No", "Ade3", "Ade4"], "paddingInner": 0.3}},
                "y": {"field": "mean", "type": "quantitative", "scale": {"domain": [0, 60]}, "axis": {"values": [0, 20, 40, 60], "title": "Frequencies of A-to-G editing (%)", "titlePadding": 1, "labelPadding": 2, "labelOverlap": false}},
                "color": {"field": "trt", "type": "nominal", "scale": {"domain": ["No", "Ade3", "Ade4"], "range": ["#a6a6ab", "#ee7f7f", "#6ec79c"]}, "legend": {"title": null, "orient": "none", "legendX": 210, "legendY": 1, "direction": "vertical", "symbolType": "M-1,-0.35H1V0.35H-1Z", "symbolSize": 289, "symbolStrokeWidth": 0, "symbolOpacity": 1, "labelFontSize": 11.5, "labelOffset": 7, "rowPadding": 2, "labelColor": "#111"}}
              }
            },
            {
              "data": {"name": "d_bars"},
              "mark": {"type": "rule", "color": "#111", "strokeWidth": 1},
              "encoding": {
                "x": {"field": "cat", "type": "nominal", "scale": {"domain": ["FANCF ABE8e", "FANCF dA3G-8e", "RNF2 ABE8e", "RNF2 dA3G-8e"], "paddingInner": 0.24, "paddingOuter": 0.15}, "axis": null},
                "xOffset": {"field": "trt", "type": "nominal", "scale": {"domain": ["No", "Ade3", "Ade4"], "paddingInner": 0.3}},
                "y": {"field": "lo", "type": "quantitative", "scale": {"domain": [0, 60]}, "axis": null},
                "y2": {"field": "hi"}
              }
            },
            {
              "data": {"name": "d_bars"},
              "mark": {"type": "tick", "color": "#111", "thickness": 1, "size": 6},
              "encoding": {
                "x": {"field": "cat", "type": "nominal", "scale": {"domain": ["FANCF ABE8e", "FANCF dA3G-8e", "RNF2 ABE8e", "RNF2 dA3G-8e"], "paddingInner": 0.24, "paddingOuter": 0.15}, "axis": null},
                "xOffset": {"field": "trt", "type": "nominal", "scale": {"domain": ["No", "Ade3", "Ade4"], "paddingInner": 0.3}},
                "y": {"field": "hi", "type": "quantitative", "scale": {"domain": [0, 60]}, "axis": null}
              }
            },
            {
              "data": {"name": "d_bars"},
              "mark": {"type": "tick", "color": "#111", "thickness": 1, "size": 6},
              "encoding": {
                "x": {"field": "cat", "type": "nominal", "scale": {"domain": ["FANCF ABE8e", "FANCF dA3G-8e", "RNF2 ABE8e", "RNF2 dA3G-8e"], "paddingInner": 0.24, "paddingOuter": 0.15}, "axis": null},
                "xOffset": {"field": "trt", "type": "nominal", "scale": {"domain": ["No", "Ade3", "Ade4"], "paddingInner": 0.3}},
                "y": {"field": "lo", "type": "quantitative", "scale": {"domain": [0, 60]}, "axis": null}
              }
            },
            {
              "data": {"name": "d_dots"},
              "mark": {"type": "point", "filled": true, "color": "#111", "size": 5, "opacity": 1},
              "encoding": {
                "x": {"field": "cat", "type": "nominal", "scale": {"domain": ["FANCF ABE8e", "FANCF dA3G-8e", "RNF2 ABE8e", "RNF2 dA3G-8e"], "paddingInner": 0.24, "paddingOuter": 0.15}, "axis": null},
                "xOffset": {"field": "trt", "type": "nominal", "scale": {"domain": ["No", "Ade3", "Ade4"], "paddingInner": 0.3}},
                "y": {"field": "v", "type": "quantitative", "scale": {"domain": [0, 60]}, "axis": null}
              }
            },
            {
              "data": {"name": "d_br"},
              "mark": {"type": "line", "color": "#111", "strokeWidth": 1},
              "encoding": {
                "x": {"field": "cat", "type": "nominal", "scale": {"domain": ["FANCF ABE8e", "FANCF dA3G-8e", "RNF2 ABE8e", "RNF2 dA3G-8e"], "paddingInner": 0.24, "paddingOuter": 0.15}, "axis": null},
                "xOffset": {"field": "trt", "type": "nominal", "scale": {"domain": ["No", "Ade3", "Ade4"], "paddingInner": 0.3}},
                "y": {"field": "y", "type": "quantitative", "scale": {"domain": [0, 60]}, "axis": null},
                "detail": {"field": "id"},
                "order": {"field": "o"}
              }
            },
            {
              "data": {"name": "d_st"},
              "transform": [{"filter": "datum.lvl === 'lo'"}],
              "mark": {"type": "text", "fontSize": 16, "color": "#111", "dx": 7, "dy": 9, "baseline": "alphabetic"},
              "encoding": {
                "x": {"field": "cat", "type": "nominal", "scale": {"domain": ["FANCF ABE8e", "FANCF dA3G-8e", "RNF2 ABE8e", "RNF2 dA3G-8e"], "paddingInner": 0.24, "paddingOuter": 0.15}, "axis": null},
                "xOffset": {"field": "trt", "type": "nominal", "scale": {"domain": ["No", "Ade3", "Ade4"], "paddingInner": 0.3}},
                "y": {"field": "y", "type": "quantitative", "scale": {"domain": [0, 60]}, "axis": null},
                "text": {"field": "s"}
              }
            },
            {
              "data": {"name": "d_st"},
              "transform": [{"filter": "datum.lvl === 'hi'"}],
              "mark": {"type": "text", "fontSize": 16, "color": "#111", "dy": 9, "baseline": "alphabetic"},
              "encoding": {
                "x": {"field": "cat", "type": "nominal", "scale": {"domain": ["FANCF ABE8e", "FANCF dA3G-8e", "RNF2 ABE8e", "RNF2 dA3G-8e"], "paddingInner": 0.24, "paddingOuter": 0.15}, "axis": null},
                "xOffset": {"field": "trt", "type": "nominal", "scale": {"domain": ["No", "Ade3", "Ade4"], "paddingInner": 0.3}},
                "y": {"field": "y", "type": "quantitative", "scale": {"domain": [0, 60]}, "axis": null},
                "text": {"field": "s"}
              }
            },
            {
              "data": {"name": "d_genes"},
              "mark": {"type": "tick", "color": "#111", "thickness": 1, "size": 49},
              "encoding": {
                "x": {"field": "gene", "type": "nominal", "scale": {"paddingInner": 0, "paddingOuter": 0.03, "align": 0.9}, "axis": {"orient": "bottom", "title": null, "domain": false, "ticks": false, "labelPadding": 29, "labelFontSize": 11.5, "labelAngle": 0, "labelColor": "#111"}},
                "y": {"datum": -10, "type": "quantitative", "scale": {"domain": [0, 60]}, "axis": null}
              }
            },
            {
              "data": {"name": "sd"},
              "mark": {"type": "bar", "orient": "horizontal", "size": 23, "cornerRadius": 4, "stroke": "#ffffff", "strokeWidth": 1},
              "encoding": {
                "x": {"field": "start", "type": "quantitative", "scale": {"domain": [-46.7, 160.3], "nice": false, "zero": false, "padding": 0}, "axis": null},
                "x2": {"field": "end"},
                "y": {"field": "row", "type": "quantitative", "scale": {"domain": [2.3, 7.3], "reverse": true, "nice": false, "zero": false, "padding": 0}, "axis": null},
                "fill": {"field": "part", "type": "nominal", "legend": null, "scale": {"domain": ["rA1", "nCas9", "2xUGI", "A3G", "A3Gntd", "dA3G", "8e"], "range": ["#e6e6e6", "#6cab47", "#a7a7a7", "#f5b81c", "#f5b81c", "#f5b81c", "#2f9e49"]}}
              }
            },
            {
              "data": {"name": "sd_mut"},
              "mark": {"type": "bar", "orient": "horizontal", "size": 23, "color": "#e8622b"},
              "encoding": {
                "x": {"field": "start", "type": "quantitative", "scale": {"domain": [-46.7, 160.3], "nice": false, "zero": false, "padding": 0}, "axis": null},
                "x2": {"field": "end"},
                "y": {"field": "row", "type": "quantitative", "scale": {"domain": [2.3, 7.3], "reverse": true, "nice": false, "zero": false, "padding": 0}, "axis": null}
              }
            },
            {
              "data": {"name": "sd"},
              "transform": [{"calculate": "(datum.start + datum.end) / 2", "as": "mid"}],
              "mark": {"type": "text", "color": "#333", "baseline": "middle", "fontSize": 12},
              "encoding": {
                "x": {"field": "mid", "type": "quantitative", "scale": {"domain": [-46.7, 160.3], "nice": false, "zero": false, "padding": 0}, "axis": null},
                "y": {"field": "row", "type": "quantitative", "scale": {"domain": [2.3, 7.3], "reverse": true, "nice": false, "zero": false, "padding": 0}, "axis": null},
                "text": {"field": "part"}
              }
            },
            {
              "data": {"name": "sd_names"},
              "mark": {"type": "text", "align": "right", "baseline": "middle", "dx": -9, "fontSize": 12.5, "color": "#222"},
              "encoding": {
                "x": {"datum": 0, "type": "quantitative", "scale": {"domain": [-46.7, 160.3], "nice": false, "zero": false, "padding": 0}, "axis": null},
                "y": {"field": "row", "type": "quantitative", "scale": {"domain": [2.3, 7.3], "reverse": true, "nice": false, "zero": false, "padding": 0}, "axis": null},
                "text": {"field": "name"}
              }
            },
            {
              "data": {"name": "sd_notes"},
              "mark": {"type": "text", "fontSize": 12, "color": "#222", "baseline": "middle"},
              "encoding": {
                "x": {"field": "x", "type": "quantitative", "scale": {"domain": [-46.7, 160.3], "nice": false, "zero": false, "padding": 0}, "axis": null},
                "y": {"field": "y", "type": "quantitative", "scale": {"domain": [2.3, 7.3], "reverse": true, "nice": false, "zero": false, "padding": 0}, "axis": null},
                "text": {"field": "t"}
              }
            }
          ]
        }
      ]
    }
  ]
}
